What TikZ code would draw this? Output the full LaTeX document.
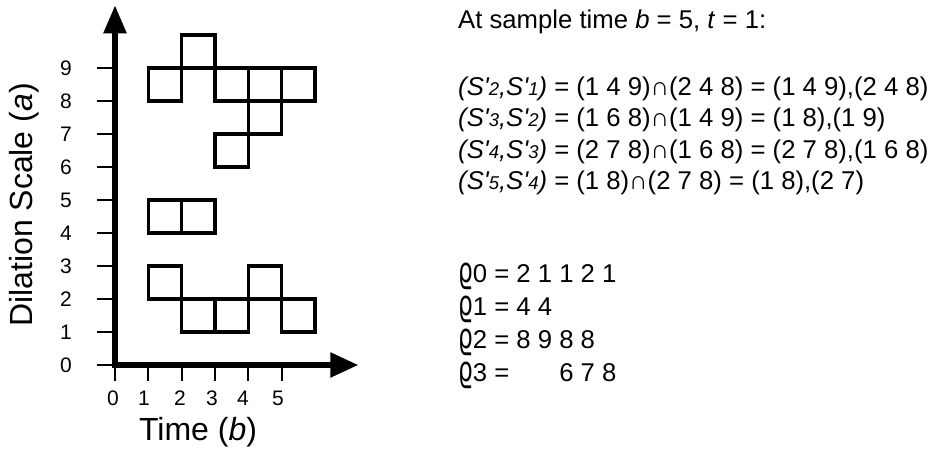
\documentclass[tikz,border=0pt]{standalone}
\usepackage{fontspec}
\setmainfont{Liberation Sans}
\newfontfamily\dejavu{DejaVu Sans}
\usetikzlibrary{arrows.meta}
\newcommand\Sp[1]{S\textquotesingle{\fontsize{18.5}{18.5}\selectfont #1}}
\newcommand\rh{\scalebox{0.9}[1.35]{\dejavu ϱ}}
\begin{document}
\begin{tikzpicture}[x=1pt,y=-1pt,
  axisline/.style={line width=5.5pt, line join=miter,
     {Triangle[length=28pt,width=22pt]}-{Triangle[length=28pt,width=24pt]}},
  tickmark/.style={line width=1.7pt},
  cell/.style={line width=3.4pt, line join=miter},
  ticklabel/.style={font=\fontsize{21}{21}\selectfont, inner sep=0pt},
  biglabel/.style={font=\fontsize{32}{32}\selectfont, inner sep=0pt, anchor=base},
  eqline/.style={font=\fontsize{25.7}{30}\selectfont, inner sep=0pt, anchor=base west}]
\path[fill=white] (0,0) rectangle (932,456);
\useasboundingbox (0,0) rectangle (932,456);

\begin{scope}[shift={(115,365)}, x=33.33pt, y=33pt]
  \coordinate (O) at (0,0);
  \coordinate (ytop) at (0,10.9);
  \coordinate (xend) at (7.3,0);
  \foreach \a in {0,...,9} \draw[tickmark] (-0.54,\a) -- (0,\a);
  \foreach \b in {0,...,5} \draw[tickmark] (\b,0) -- (\b,-0.48);
  % cells (b, a)
  \foreach \b/\a in {1/8,2/9,3/8,4/8,5/8,4/7,3/6,1/4,2/4,1/2,2/1,3/1,4/2,5/1}
    \draw[cell] (\b,\a) rectangle ++(1,1);
  \draw[axisline] (ytop) -- (O) -- (xend);
\end{scope}

\foreach \a in {0,...,9}
  \node[ticklabel] (ya\a) at (66,{365-33*\a}) {\a};
\foreach \b/\xx in {0/113,1/144,2/180,3/212,4/243,5/278}
  \node[ticklabel] (xb\b) at (\xx,398) {\b};

\node[biglabel] (tlabel) at (198,440) {Time (\textit{b})};
\node[biglabel, rotate=90] (alabel) at (32,205) {Dilation Scale (\textit{a})};

\node[eqline] (head) at (458,28) {At sample time \textit{b} = 5, \textit{t} = 1:};
\node[eqline] (e1) at (458,95) {\textit{(\Sp{2},\Sp{1})} = (1 4 9)∩(2 4 8) = (1 4 9),(2 4 8)};
\node[eqline] (e2) at (458,126.5) {\textit{(\Sp{3},\Sp{2})} = (1 6 8)∩(1 4 9) = (1 8),(1 9)};
\node[eqline] (e3) at (458,158) {\textit{(\Sp{4},\Sp{3})} = (2 7 8)∩(1 6 8) = (2 7 8),(1 6 8)};
\node[eqline] (e4) at (458,189.5) {\textit{(\Sp{5},\Sp{4})} = (1 8)∩(2 7 8) = (1 8),(2 7)};

\node[eqline] (r0) at (458,282) {\rh0 = 2 1 1 2 1};
\node[eqline] (r1) at (458,315) {\rh1 = 4 4};
\node[eqline] (r2) at (458,348) {\rh2 = 8 9 8 8};
\node[eqline] (r3) at (458,381) {\rh3 = \phantom{2 1 }6 7 8};
\end{tikzpicture}
\end{document}
